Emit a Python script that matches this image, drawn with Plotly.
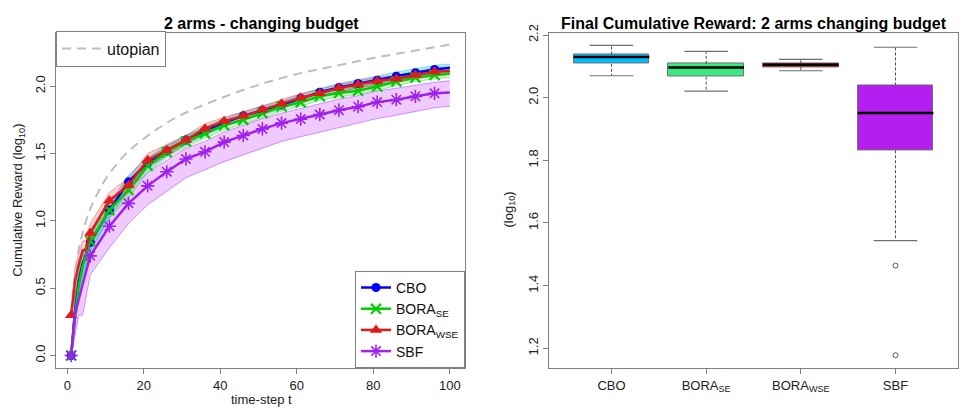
import plotly.graph_objects as go

# ---------------- data: left panel ----------------
t = [1, 2, 3, 4, 5, 6, 11, 16, 21, 26, 31, 36, 41, 46, 51, 56, 61, 66, 71, 76, 81, 86, 91, 96, 100]
t_marker = [1, 6, 11, 16, 21, 26, 31, 36, 41, 46, 51, 56, 61, 66, 71, 76, 81, 86, 91, 96]

cbo = [0.00, 0.33, 0.55, 0.68, 0.76, 0.84, 1.08, 1.29, 1.43, 1.52, 1.60, 1.67, 1.73, 1.78, 1.82, 1.86,
       1.91, 1.955, 1.99, 2.02, 2.045, 2.075, 2.10, 2.125, 2.138]
cbo_lo = [0.00, 0.22, 0.45, 0.60, 0.69, 0.77, 1.02, 1.23, 1.38, 1.48, 1.565, 1.635, 1.70, 1.75, 1.79, 1.83,
          1.88, 1.925, 1.96, 1.99, 2.015, 2.045, 2.07, 2.095, 2.108]
cbo_hi = [0.00, 0.42, 0.64, 0.76, 0.83, 0.90, 1.13, 1.34, 1.47, 1.56, 1.635, 1.70, 1.76, 1.81, 1.85, 1.89,
          1.94, 1.985, 2.02, 2.05, 2.075, 2.105, 2.13, 2.155, 2.165]

bora_se = [0.00, 0.30, 0.52, 0.66, 0.76, 0.85, 1.08, 1.23, 1.41, 1.51, 1.59, 1.65, 1.71, 1.75, 1.80, 1.85,
           1.88, 1.925, 1.95, 1.966, 1.998, 2.035, 2.065, 2.083, 2.095]
bora_se_lo = [0.00, 0.20, 0.42, 0.57, 0.68, 0.78, 1.02, 1.17, 1.36, 1.47, 1.55, 1.615, 1.675, 1.72, 1.77, 1.815,
              1.85, 1.895, 1.92, 1.94, 1.97, 2.005, 2.035, 2.055, 2.065]
bora_se_hi = [0.00, 0.40, 0.61, 0.74, 0.83, 0.92, 1.14, 1.29, 1.46, 1.55, 1.63, 1.685, 1.745, 1.78, 1.83, 1.88,
              1.91, 1.955, 1.98, 1.995, 2.025, 2.065, 2.095, 2.11, 2.125]

bora_wse = [0.30, 0.55, 0.68, 0.78, 0.79, 0.91, 1.15, 1.265, 1.45, 1.525, 1.60, 1.685, 1.74, 1.78, 1.825, 1.87,
            1.915, 1.948, 1.986, 2.013, 2.038, 2.055, 2.083, 2.107, 2.114]
bora_wse_lo = [0.30, 0.45, 0.60, 0.70, 0.72, 0.84, 1.09, 1.21, 1.40, 1.485, 1.565, 1.65, 1.71, 1.75, 1.795, 1.84,
               1.885, 1.92, 1.958, 1.985, 2.01, 2.028, 2.055, 2.08, 2.087]
bora_wse_hi = [0.30, 0.65, 0.76, 0.85, 0.86, 0.98, 1.21, 1.32, 1.50, 1.565, 1.635, 1.72, 1.77, 1.81, 1.855, 1.90,
               1.945, 1.976, 2.014, 2.04, 2.066, 2.082, 2.11, 2.134, 2.141]

sbf = [0.00, 0.30, 0.42, 0.53, 0.64, 0.74, 0.96, 1.13, 1.26, 1.365, 1.46, 1.513, 1.585, 1.634, 1.683, 1.726,
       1.756, 1.79, 1.822, 1.848, 1.882, 1.90, 1.925, 1.947, 1.954]
sbf_lo = [0.00, 0.15, 0.30, 0.30, 0.45, 0.60, 0.80, 0.98, 1.12, 1.22, 1.32, 1.38, 1.44, 1.49, 1.54, 1.59,
          1.625, 1.66, 1.695, 1.725, 1.76, 1.785, 1.81, 1.84, 1.852]
sbf_hi = [0.00, 0.45, 0.55, 0.66, 0.76, 0.86, 1.07, 1.24, 1.36, 1.45, 1.54, 1.59, 1.66, 1.71, 1.76, 1.80,
          1.835, 1.87, 1.905, 1.93, 1.965, 1.985, 2.01, 2.03, 2.04]

t_utopian = [1, 2, 3, 4, 5, 6, 8, 10, 15, 20, 25, 30, 40, 50, 60, 70, 80, 90, 100]
utopian = [0.31, 0.61, 0.79, 0.91, 1.01, 1.09, 1.21, 1.31, 1.49, 1.61, 1.71, 1.79, 1.91, 2.01, 2.09, 2.15,
           2.21, 2.26, 2.31]

x_ticks_left = [0, 20, 40, 60, 80, 100]
y_ticks_left = [0.0, 0.5, 1.0, 1.5, 2.0]
y_ticktext_left = ["0.0", "0.5", "1.0", "1.5", "2.0"]

# ---------------- data: right panel (box statistics) ----------------
methods = ["CBO", "BORA<sub>SE</sub>", "BORA<sub>WSE</sub>", "SBF"]
box_lower = [2.070, 2.021, 2.086, 1.544]
box_q1 = [2.108, 2.067, 2.098, 1.832]
box_median = [2.130, 2.096, 2.105, 1.951]
box_q3 = [2.138, 2.108, 2.110, 2.039]
box_upper = [2.167, 2.148, 2.122, 2.161]
sbf_outliers = [1.464, 1.178]
box_fill = ["#00BFFF", "#3DE882", "#FF0000", "#B51EF0"]
y_ticks_right = [1.2, 1.4, 1.6, 1.8, 2.0, 2.2]
y_ticktext_right = ["1.2", "1.4", "1.6", "1.8", "2.0", "2.2"]

FONT = "Liberation Sans, Arial, sans-serif"
FRAME = "#808080"

fig = go.Figure()

series = [
    dict(name="CBO", y=cbo, lo=cbo_lo, hi=cbo_hi, color="#0000FF", band="rgba(0,191,255,0.30)",
         edge="rgba(0,191,255,0.55)", symbol="circle", msize=9, mline=0),
    dict(name="BORA<sub>SE</sub>", y=bora_se, lo=bora_se_lo, hi=bora_se_hi, color="#00CD00",
         band="rgba(0,205,0,0.18)", edge="rgba(0,205,0,0.45)", symbol="x-thin", msize=10, mline=2.2),
    dict(name="BORA<sub>WSE</sub>", y=bora_wse, lo=bora_wse_lo, hi=bora_wse_hi, color="#E01B1B",
         band="rgba(255,0,0,0.18)", edge="rgba(255,0,0,0.45)", symbol="triangle-up", msize=11, mline=0),
    dict(name="SBF", y=sbf, lo=sbf_lo, hi=sbf_hi, color="#A020F0", band="rgba(200,80,255,0.30)",
         edge="rgba(180,60,255,0.65)", symbol="asterisk", msize=11, mline=1.6),
]

# confidence bands (SBF first so it sits underneath)
for s in [series[3], series[0], series[1], series[2]]:
    fig.add_trace(go.Scatter(x=t, y=s["lo"], mode="lines", line=dict(color=s["edge"], width=0.8),
                             showlegend=False, hoverinfo="skip", xaxis="x", yaxis="y"))
    fig.add_trace(go.Scatter(x=t, y=s["hi"], mode="lines", line=dict(color=s["edge"], width=0.8),
                             fill="tonexty", fillcolor=s["band"], showlegend=False, hoverinfo="skip",
                             xaxis="x", yaxis="y"))

# utopian
fig.add_trace(go.Scatter(x=t_utopian, y=utopian, mode="lines", name="utopian",
                         line=dict(color="#BEBEBE", width=2, dash="9px,6px", shape="spline"),
                         legend="legend2", xaxis="x", yaxis="y"))

# mean curves + markers
for s in series:
    lookup = dict(zip(t, s["y"]))
    ym = [lookup[k] for k in t_marker]
    marker = dict(symbol=s["symbol"], size=s["msize"], color=s["color"],
                  line=dict(color=s["color"], width=s["mline"]))
    fig.add_trace(go.Scatter(x=t, y=s["y"], mode="lines", line=dict(color=s["color"], width=2.5),
                             showlegend=False, xaxis="x", yaxis="y"))
    fig.add_trace(go.Scatter(x=t_marker, y=ym, mode="markers", marker=marker, showlegend=False,
                             xaxis="x", yaxis="y"))
    # legend entry
    fig.add_trace(go.Scatter(x=[None], y=[None], mode="lines+markers", name=s["name"],
                             line=dict(color=s["color"], width=2.5), marker=marker,
                             legend="legend", xaxis="x", yaxis="y"))

# ---------------- right panel: box plots ----------------
pos = [1, 2, 3, 4]
fig.add_trace(go.Bar(x=pos, y=[q3 - q1 for q1, q3 in zip(box_q1, box_q3)], base=box_q1, width=0.8,
                     marker=dict(color=box_fill, line=dict(color="#707070", width=1)),
                     showlegend=False, xaxis="x2", yaxis="y2"))

wx, wy, cx, cy, mx, my = [], [], [], [], [], []
for p, lo, q1, md, q3, hi in zip(pos, box_lower, box_q1, box_median, box_q3, box_upper):
    wx += [p, p, None, p, p, None]
    wy += [q3, hi, None, q1, lo, None]
    cx += [p - 0.23, p + 0.23, None, p - 0.23, p + 0.23, None]
    cy += [hi, hi, None, lo, lo, None]
    mx += [p - 0.4, p + 0.4, None]
    my += [md, md, None]

fig.add_trace(go.Scatter(x=wx, y=wy, mode="lines", line=dict(color="#505050", width=1, dash="3px,2px"),
                         showlegend=False, xaxis="x2", yaxis="y2"))
fig.add_trace(go.Scatter(x=cx, y=cy, mode="lines", line=dict(color="#707070", width=1.2),
                         showlegend=False, xaxis="x2", yaxis="y2"))
fig.add_trace(go.Scatter(x=mx, y=my, mode="lines", line=dict(color="#000000", width=2.5),
                         showlegend=False, xaxis="x2", yaxis="y2"))
fig.add_trace(go.Scatter(x=[4] * len(sbf_outliers), y=sbf_outliers, mode="markers",
                         marker=dict(symbol="circle-open", size=5, color="#555555", line=dict(width=1)),
                         showlegend=False, xaxis="x2", yaxis="y2"))

W, H = 962, 408
def px(x):
    return x / W
def py(y):
    return 1 - y / H

axis_common = dict(showgrid=False, zeroline=False, showline=True, mirror=True, linecolor=FRAME,
                   linewidth=1, ticks="outside", ticklen=5, tickcolor=FRAME,
                   tickfont=dict(family=FONT, size=13, color="#222222"))

def note(text, x, y, size=13, angle=0, color="#222222"):
    return dict(text=text, x=px(x), y=py(y), xref="paper", yref="paper", xanchor="center",
                yanchor="middle", showarrow=False, textangle=angle,
                font=dict(family=FONT, size=size, color=color))

fig.update_layout(
    width=W, height=H, margin=dict(l=0, r=0, t=0, b=0),
    paper_bgcolor="white", plot_bgcolor="white",
    font=dict(family=FONT, size=13, color="#222222"),
    xaxis=dict(domain=[px(56), px(465)], range=[-2.96, 103.96], tickvals=x_ticks_left,
               anchor="y", **axis_common),
    yaxis=dict(domain=[py(367), py(25)], range=[-0.092, 2.392], tickvals=y_ticks_left,
               ticktext=y_ticktext_left, tickangle=-90, anchor="x", **axis_common),
    xaxis2=dict(domain=[px(549), px(958)], range=[0.34, 4.66], tickvals=pos, ticktext=methods,
                anchor="y2", **axis_common),
    yaxis2=dict(domain=[py(367), py(25)], range=[1.1375, 2.205], tickvals=y_ticks_right,
                ticktext=y_ticktext_right, tickangle=-90, anchor="x2", **axis_common),
    legend=dict(x=px(465), y=py(367), xanchor="right", yanchor="bottom", bgcolor="white",
                bordercolor=FRAME, borderwidth=1, font=dict(family=FONT, size=14, color="#111111"),
                itemwidth=30, tracegroupgap=0, traceorder="normal"),
    legend2=dict(x=px(56), y=py(22), xanchor="left", yanchor="top", bgcolor="white",
                 bordercolor=FRAME, borderwidth=1, font=dict(family=FONT, size=16, color="#111111"),
                 itemwidth=40),
    bargap=0,
    showlegend=True,
    annotations=[
        note("<b>2 arms - changing budget</b>", 261, 15, size=16, color="#000000"),
        note("<b>Final Cumulative Reward: 2 arms changing budget</b>", 754, 15, size=16, color="#000000"),
        note("time-step t", 261, 399),
        note("Cumulative Reward (log<sub>10</sub>)", 19, 196, angle=-90),
        note("(log<sub>10</sub>)", 509, 205, angle=-90),
    ],
)

fig.write_html("out.html")
